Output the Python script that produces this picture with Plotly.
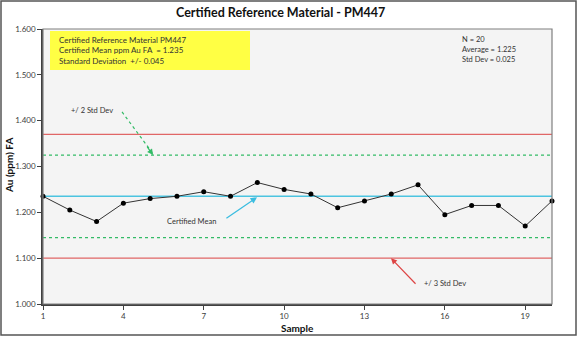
import plotly.graph_objects as go

# Data
samples = list(range(1, 21))
au_ppm = [1.235, 1.205, 1.180, 1.220, 1.230, 1.235, 1.245, 1.235, 1.265, 1.250,
          1.240, 1.210, 1.225, 1.240, 1.260, 1.195, 1.215, 1.215, 1.170, 1.225]
certified_mean = 1.235
std_dev = 0.045
x_ticks = [1, 4, 7, 10, 13, 16, 19]
y_ticks = [1.0, 1.1, 1.2, 1.3, 1.4, 1.5, 1.6]

W, H = 578, 337
ML, MR, MT, MB = 43, 26, 29, 33
PW, PH = W - ML - MR, H - MT - MB

def px(x):  # pixel -> paper
    return (x - ML) / PW

def py(y):
    return 1 - (y - MT) / PH

FONT = "Lato"
fig = go.Figure()

x0, x1 = samples[0], samples[-1]
lines = [
    (certified_mean + 3 * std_dev, "#e06666", "solid", 1.3),
    (certified_mean - 3 * std_dev, "#e06666", "solid", 1.3),
    (certified_mean + 2 * std_dev, "#33bb66", "3px,3px", 1.2),
    (certified_mean - 2 * std_dev, "#33bb66", "3px,3px", 1.2),
    (certified_mean, "#4cc4e0", "solid", 1.4),
]
for val, col, dash, w in lines:
    fig.add_trace(go.Scatter(x=[x0, x1], y=[val, val], mode="lines",
                             line=dict(color=col, width=w, dash=dash),
                             hoverinfo="skip", showlegend=False))

fig.add_trace(go.Scatter(x=samples, y=au_ppm, mode="lines+markers",
                         line=dict(color="#333333", width=1),
                         marker=dict(color="#000000", size=5),
                         cliponaxis=False, showlegend=False))

shapes = []
# outer frame
shapes.append(dict(type="rect", xref="paper", yref="paper",
                   x0=px(1), x1=px(576), y0=py(335), y1=py(1),
                   line=dict(color="#555555", width=1.5), fillcolor="rgba(0,0,0,0)", layer="below"))
# plot box border (top/right gray)
shapes.append(dict(type="rect", xref="paper", yref="paper", x0=0, x1=1, y0=0, y1=1,
                   line=dict(color="#7f7f7f", width=1.2), fillcolor="rgba(0,0,0,0)"))
# yellow box
shapes.append(dict(type="rect", xref="paper", yref="paper",
                   x0=px(50), x1=px(250), y0=py(70), y1=py(31),
                   line=dict(width=0), fillcolor="#ffff44"))
# green dashed arrow shaft
shapes.append(dict(type="line", xref="x", yref="y", x0=3.95, y0=1.419, x1=5.08, y1=1.330,
                   line=dict(color="#33bb66", width=1.2, dash="3px,3px")))

annotations = []
annotations.append(dict(xref="paper", yref="paper", x=px(57), y=py(51), xanchor="left", yanchor="middle",
                        align="left", showarrow=False,
                        text="Certified Reference Material PM447<br>Certified Mean ppm Au FA  = 1.235<br>Standard Deviation  +/- 0.045",
                        font=dict(family=FONT, size=8, color="#333333")))
annotations.append(dict(xref="paper", yref="paper", x=px(460), y=py(49), xanchor="left", yanchor="middle",
                        align="left", showarrow=False,
                        text="N = 20<br>Average = 1.225<br>Std Dev = 0.025",
                        font=dict(family=FONT, size=7.5, color="#333333")))
annotations.append(dict(xref="x", yref="y", x=2.83, y=1.423, showarrow=False,
                        xanchor="center", yanchor="middle",
                        text="+/ 2 Std Dev", font=dict(family=FONT, size=7.5, color="#333333")))
annotations.append(dict(xref="x", yref="y", x=5.11, y=1.325, ax=4.85, ay=1.346,
                        axref="x", ayref="y", showarrow=True, arrowhead=2, arrowsize=1,
                        arrowwidth=1.2, arrowcolor="#33bb66", text=""))
annotations.append(dict(xref="x", yref="y", x=6.56, y=1.179, showarrow=False,
                        xanchor="center", yanchor="middle",
                        text="Certified Mean", font=dict(family=FONT, size=7.5, color="#333333")))
annotations.append(dict(xref="x", yref="y", x=8.99, y=1.233, ax=7.79, ay=1.185,
                        axref="x", ayref="y", showarrow=True, arrowhead=2, arrowsize=1,
                        arrowwidth=1.3, arrowcolor="#3bbde0", text=""))
annotations.append(dict(xref="x", yref="y", x=16.0, y=1.044, showarrow=False,
                        xanchor="center", yanchor="middle",
                        text="+/ 3 Std Dev", font=dict(family=FONT, size=7.5, color="#333333")))
annotations.append(dict(xref="x", yref="y", x=13.99, y=1.100, ax=14.96, ay=1.041,
                        axref="x", ayref="y", showarrow=True, arrowhead=2, arrowsize=1,
                        arrowwidth=1.2, arrowcolor="#dd4444", text=""))
# title
annotations.append(dict(xref="paper", yref="paper", x=px(280), y=py(12), showarrow=False,
                        xanchor="center", yanchor="middle",
                        text="<b>Certified Reference Material - PM447</b>",
                        font=dict(family=FONT, size=12.5, color="#111111")))
annotations.append(dict(xref="paper", yref="paper", x=px(297), y=py(328), showarrow=False,
                        xanchor="center", yanchor="middle",
                        text="<b>Sample</b>", font=dict(family=FONT, size=10, color="#111111")))
annotations.append(dict(xref="paper", yref="paper", x=px(9), y=py(166), showarrow=False,
                        xanchor="center", yanchor="middle",
                        textangle=-90, text="<b>Au (ppm) FA</b>",
                        font=dict(family=FONT, size=10, color="#111111")))

fig.update_layout(
    width=W, height=H,
    margin=dict(l=ML, r=MR, t=MT, b=MB, pad=0),
    paper_bgcolor="white", plot_bgcolor="#f4f4f4",
    shapes=shapes, annotations=annotations,
    showlegend=False,
)
fig.update_xaxes(range=[x0, x1], tickvals=x_ticks, ticks="outside", ticklen=4,
                 tickcolor="#404040", showgrid=False, zeroline=False,
                 showline=True, linecolor="#404040", linewidth=1.5,
                 tickfont=dict(family=FONT, size=8, color="#404040"))
fig.update_yaxes(range=[y_ticks[0], y_ticks[-1]], tickvals=y_ticks, tickformat=".3f",
                 ticks="outside", ticklen=4, tickcolor="#404040", showgrid=False, zeroline=False,
                 showline=True, linecolor="#404040", linewidth=1.5,
                 tickfont=dict(family=FONT, size=8, color="#404040"))

fig.write_html("out.html")
